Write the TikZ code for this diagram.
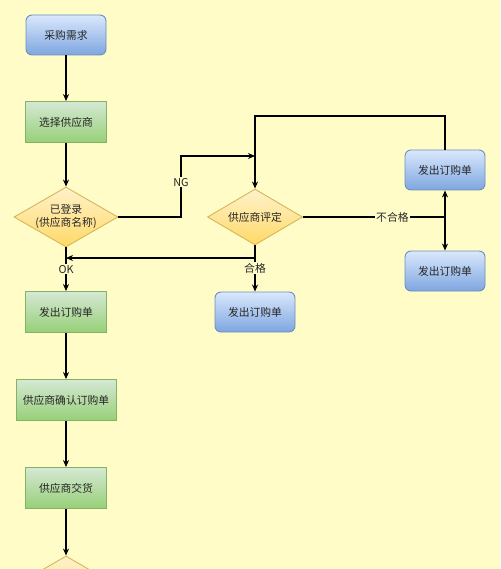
\documentclass[tikz,border=0pt]{standalone}
\usepackage{fontspec}
\setmainfont{Noto Sans CJK SC}
\usetikzlibrary{shapes.geometric,arrows.meta,shadings}
\definecolor{bg}{RGB}{255,252,200}
\definecolor{blueT}{RGB}{218,232,252}
\definecolor{blueB}{RGB}{126,166,224}
\definecolor{blueD}{RGB}{108,142,191}
\definecolor{greenT}{RGB}{213,232,212}
\definecolor{greenB}{RGB}{151,208,119}
\definecolor{greenD}{RGB}{130,179,102}
\definecolor{yelT}{RGB}{255,242,204}
\definecolor{yelB}{RGB}{255,217,102}
\definecolor{yelD}{RGB}{214,182,86}
\tikzset{
  base/.style={font=\fontsize{10.8}{13}\selectfont, text=black!85, inner sep=0pt, line width=0.9pt},
  bluebox/.style={base, rectangle, rounded corners=6pt, minimum width=80pt, minimum height=40pt, draw=blueD, top color=blueT, bottom color=blueB},
  greenbox/.style={base, rectangle, minimum width=81pt, minimum height=41pt, draw=greenD, top color=greenT, bottom color=greenB},
  decide/.style={base, diamond, draw=yelD, top color=yelT, bottom color=yelB, align=center},
  conn/.style={line width=1.2pt, black},
  arr/.style={conn, -{Stealth[length=7pt,width=6pt]}},
  lab/.style={fill=bg, inner sep=1pt, font=\fontsize{10.8}{13}\selectfont, text=black!85}
}
\begin{document}
\begin{tikzpicture}[x=1pt,y=-1pt]
\useasboundingbox (0,0) rectangle (500,569);
\clip (0,0) rectangle (500,569);
\fill[bg] (0,0) rectangle (500,569);

\node[bluebox] (req) at (66,35) {采购需求};
\node[greenbox] (sel) at (66,122) {选择供应商};
\node[decide, minimum width=104pt, minimum height=60pt, shape aspect=1.73] (reg) at (66,217) {};
\node[base, align=center] at (66,217) {已登录\\(供应商名称)};
\node[decide, minimum width=95pt, minimum height=56pt, shape aspect=1.7] (eval) at (255,217) {};
\node[base] at (255,217) {供应商评定};
\node[bluebox] (po1) at (445,170) {发出订购单};
\node[bluebox] (po2) at (445,271) {发出订购单};
\node[bluebox] (po3) at (255,312) {发出订购单};
\node[greenbox] (po) at (66,312) {发出订购单};
\node[greenbox, minimum width=100pt] (conf) at (66,400) {供应商确认订购单};
\node[greenbox] (deliv) at (66,488) {供应商交货};
\node[decide, minimum width=104pt, minimum height=60pt, shape aspect=1.73] (chk) at (66,586) {};

\coordinate (ngj) at (255,156);
\coordinate (okj) at (66,258);
\coordinate (split) at (445,217);

\draw[arr] (req) -- (sel);
\draw[arr] (sel) -- (reg);
\draw[arr] (reg.south) -- node[lab, pos=0.5] {OK} (po.north);
\draw[arr] (reg.east) -- (181,217) -- node[lab, pos=0.57] {NG} (181,156) -- (ngj);
\draw[arr] (po1.north) -- (445,116) -- (255,116) -- (eval.north);
\draw[conn] (eval.east) -- node[lab, pos=0.63] {不合格} (split);
\draw[arr] (split) -- (po1.south);
\draw[arr] (split) -- (po2.north);
\draw[conn] (eval.south) -- (255,258);
\draw[arr] (255,258) -- (okj);
\draw[arr] (255,258) -- node[lab, pos=0.3] {合格} (po3.north);
\draw[arr] (po) -- (conf);
\draw[arr] (conf) -- (deliv);
\draw[arr] (deliv) -- (chk.north);
\end{tikzpicture}
\end{document}
